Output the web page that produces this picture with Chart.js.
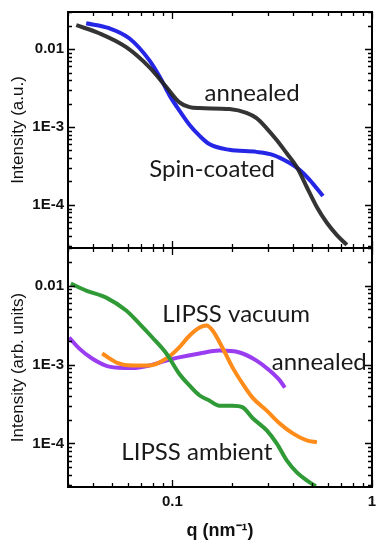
<!DOCTYPE html>
<html>
<head>
<meta charset="utf-8">
<script src="https://cdn.jsdelivr.net/npm/chart.js@4.4.1/dist/chart.umd.min.js"></script>
<style>
  html, body { margin: 0; padding: 0; background: #fff; }
  #wrap { position: relative; width: 385px; height: 550px; }
  #topBox { position: absolute; left: 0; top: 0; width: 385px; height: 252px; }
  #botBox { position: absolute; left: 0; top: 240px; width: 385px; height: 310px; }
</style>
</head>
<body>
<div id="wrap">
  <div id="topBox"><canvas id="topChart"></canvas></div>
  <div id="botBox"><canvas id="botChart"></canvas></div>
</div>
<script>
// --- data (q in nm^-1, intensity) ---
// top panel
const annealedTopQ = [0.033, 0.043, 0.0587, 0.0766, 0.0933, 0.108, 0.122, 0.137, 0.193, 0.235, 0.264, 0.296, 0.333, 0.374, 0.42, 0.471, 0.529, 0.594, 0.667, 0.748];
const annealedTopI = [0.0203, 0.016, 0.0106, 0.00588, 0.00326, 0.00209, 0.0018, 0.00175, 0.0017, 0.00152, 0.0013, 9.7e-4, 6.8e-4, 4.6e-4, 3.07e-4, 1.7e-4, 9.4e-5, 5.9e-5, 4.1e-5, 3.07e-5];
const spinQ = [0.037, 0.0482, 0.0608, 0.0766, 0.086, 0.0966, 0.108, 0.122, 0.137, 0.153, 0.193, 0.264, 0.318, 0.387, 0.435, 0.487, 0.568];
const spinI = [0.0215, 0.0186, 0.0138, 0.00723, 0.00451, 0.00257, 0.00165, 0.00106, 7.7e-4, 6.05e-4, 5.1e-4, 4.8e-4, 4.4e-4, 3.45e-4, 2.8e-4, 2.1e-4, 1.3e-4];

// bottom panel
const ambientQ = [0.031, 0.037, 0.0466, 0.0587, 0.0683, 0.0794, 0.0933, 0.108, 0.122, 0.137, 0.153, 0.172, 0.2, 0.225, 0.252, 0.297, 0.333, 0.374, 0.42, 0.471, 0.523];
const ambientI = [0.0106, 0.00865, 0.00705, 0.00483, 0.0033, 0.0022, 0.00138, 7.7e-4, 5.4e-4, 4.05e-4, 3.5e-4, 3.0e-4, 3.0e-4, 2.86e-4, 2.1e-4, 1.46e-4, 1.0e-4, 6.1e-5, 4.3e-5, 3.4e-5, 2.86e-5];
const vacuumQ = [0.0445, 0.0524, 0.063, 0.0766, 0.0933, 0.108, 0.122, 0.137, 0.148, 0.159, 0.178, 0.2, 0.225, 0.252, 0.297, 0.345, 0.401, 0.471, 0.53];
const vacuumI = [0.00138, 0.00106, 9.7e-4, 9.7e-4, 0.00119, 0.00164, 0.00233, 0.00294, 0.00312, 0.0027, 0.00164, 9.2e-4, 5.7e-4, 3.8e-4, 2.6e-4, 1.79e-4, 1.34e-4, 1.09e-4, 1.03e-4];
const annealedBotQ = [0.0304, 0.0341, 0.0396, 0.0482, 0.063, 0.0766, 0.0933, 0.108, 0.137, 0.172, 0.217, 0.264, 0.307, 0.345, 0.366];
const annealedBotI = [0.0022, 0.0016, 0.00119, 9.4e-4, 9.0e-4, 9.7e-4, 0.00112, 0.00123, 0.00138, 0.0015, 0.00142, 0.00112, 8.4e-4, 6.3e-4, 5.1e-4];

// axes
const qMin = 0.03, qMax = 1;
const iMin = 2.8e-5, iMax = 0.03;
const xTickVals = [0.1, 1];
const xTickLabels = ['0.1', '1'];
const yTickVals = [0.01, 1e-3, 1e-4];
const yTickLabels = ['0.01', '1E-3', '1E-4'];

// in-plot labels: text, q of left edge, intensity at baseline
const topLabelText = ['annealed', 'Spin-coated'];
const topLabelQ = [0.145, 0.0766];
const topLabelI = [0.00216, 2.29e-4];
const botLabelText = ['LIPSS vacuum', 'annealed', 'LIPSS ambient'];
const botLabelQ = [0.0891, 0.3145, 0.0555];
const botLabelI = [0.0035, 8.4e-4, 6.1e-5];

function pts(q, I) {
    return q.map((v, i) => ({ x: v, y: I[i] }));
}

function series(q, I, color) {
    return {
        data: pts(q, I),
        showLine: true,
        borderColor: color,
        backgroundColor: color,
        borderWidth: 4,
        pointRadius: 0,
        cubicInterpolationMode: 'monotone'
    };
}

// ticks for the log axes: 1..9 x 10^n inside the range
function logTicks(min, max) {
    const out = [];
    for (let e = Math.floor(Math.log10(min)); e <= Math.ceil(Math.log10(max)); e++) {
        for (let k = 1; k <= 9; k++) {
            const v = k * Math.pow(10, e);
            if (v >= min * 0.999 && v <= max * 1.001) out.push({ v: v, major: k === 1 });
        }
    }
    return out;
}

// frame, inward ticks on four sides, text labels
function decor(texts, qs, is) {
    return {
        id: 'decor',
        afterDatasetsDraw(chart) {
            const { ctx, chartArea: a, scales: { x, y } } = chart;
            ctx.save();
            ctx.strokeStyle = '#000';
            ctx.lineWidth = 1.3;
            logTicks(qMin, qMax).forEach(t => {
                const px = Math.round(x.getPixelForValue(t.v)) + 0.5;
                const len = t.major ? 7 : 4;
                ctx.beginPath();
                ctx.moveTo(px, a.top); ctx.lineTo(px, a.top + len);
                ctx.moveTo(px, a.bottom); ctx.lineTo(px, a.bottom - len);
                ctx.stroke();
            });
            logTicks(iMin, iMax).forEach(t => {
                const py = Math.round(y.getPixelForValue(t.v)) + 0.5;
                const len = t.major ? 7 : 4;
                ctx.beginPath();
                ctx.moveTo(a.left, py); ctx.lineTo(a.left + len, py);
                ctx.moveTo(a.right, py); ctx.lineTo(a.right - len, py);
                ctx.stroke();
            });
            ctx.lineWidth = 2;
            ctx.strokeRect(a.left, a.top, a.right - a.left, a.bottom - a.top);

            ctx.fillStyle = '#1a1a1a';
            ctx.font = '24px Lato';
            ctx.textAlign = 'left';
            ctx.textBaseline = 'alphabetic';
            texts.forEach((t, i) => {
                ctx.fillText(t, x.getPixelForValue(qs[i]), y.getPixelForValue(is[i]));
            });
            ctx.restore();
        }
    };
}

const tickFont = { family: 'Liberation Sans, Arial', size: 15, weight: 'bold' };
const titleFont = { family: 'Liberation Sans, Arial', size: 17 };

// keep the axes from adding extra room for their end labels
function noEdgePad(s) {
    s.paddingTop = 0; s.paddingBottom = 0;
    s.paddingLeft = 0; s.paddingRight = 0;
}

function yAxis(title) {
    return {
        type: 'logarithmic',
        min: iMin,
        max: iMax,
        afterBuildTicks: s => { s.ticks = yTickVals.map(v => ({ value: v })); },
        afterFit: s => { s.width = 68; noEdgePad(s); },
        grid: { display: false, drawTicks: false },
        border: { display: false },
        ticks: {
            autoSkip: false,
            padding: 4,
            color: '#111',
            font: tickFont,
            callback: (v, i) => yTickLabels[i]
        },
        title: { display: true, text: title, color: '#111', font: titleFont, padding: { top: 8, bottom: 0 } }
    };
}

const topChart = new Chart(document.getElementById('topChart').getContext('2d'), {
    type: 'scatter',
    data: {
        datasets: [
            series(annealedTopQ, annealedTopI, 'rgba(35,35,35,0.92)'),
            series(spinQ, spinI, '#2626e6')
        ]
    },
    options: {
        responsive: true,
        maintainAspectRatio: false,
        animation: false,
        layout: { padding: { top: 12, right: 13, bottom: 4, left: 0 } },
        plugins: { legend: { display: false }, tooltip: { enabled: false } },
        scales: {
            x: { type: 'logarithmic', min: qMin, max: qMax, display: false },
            y: yAxis('Intensity (a.u.)')
        }
    },
    plugins: [decor(topLabelText, topLabelQ, topLabelI)]
});

const botChart = new Chart(document.getElementById('botChart').getContext('2d'), {
    type: 'scatter',
    data: {
        datasets: [
            series(ambientQ, ambientI, '#2f9a36'),
            series(vacuumQ, vacuumI, '#ff8c1a'),
            series(annealedBotQ, annealedBotI, '#9a3cf0')
        ]
    },
    options: {
        responsive: true,
        maintainAspectRatio: false,
        animation: false,
        layout: { padding: { top: 8, right: 13, bottom: 0, left: 0 } },
        plugins: { legend: { display: false }, tooltip: { enabled: false } },
        scales: {
            x: {
                type: 'logarithmic',
                min: qMin,
                max: qMax,
                afterBuildTicks: s => { s.ticks = xTickVals.map(v => ({ value: v })); },
                afterFit: s => { s.height = 63; noEdgePad(s); },
                grid: { display: false, drawTicks: false },
                border: { display: false },
                ticks: {
                    autoSkip: false,
                    maxRotation: 0,
                    padding: 6,
                    color: '#111',
                    font: tickFont,
                    callback: (v, i) => xTickLabels[i]
                },
                title: {
                    display: true,
                    text: 'q (nm\u207B\u00B9)',
                    color: '#111',
                    font: { family: 'Liberation Sans, Arial', size: 18, weight: 'bold' },
                    padding: { top: 0, bottom: 8 }
                }
            },
            y: yAxis('Intensity (arb. units)')
        }
    },
    plugins: [decor(botLabelText, botLabelQ, botLabelI)]
});
</script>
</body>
</html>
